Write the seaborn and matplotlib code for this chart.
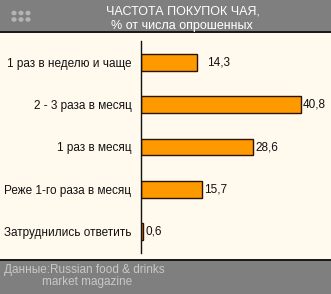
import matplotlib
matplotlib.use("Agg")
import matplotlib.pyplot as plt
import seaborn as sns
import pandas as pd
import numpy as np
from matplotlib.patches import Rectangle, Circle

categories = ["1 раз в неделю и чаще", "2 - 3 раза в месяц", "1 раз в месяц",
              "Реже 1-го раза в месяц", "Затруднились ответить"]
values = [14.3, 40.8, 28.6, 15.7, 0.6]
labels = ["14,3", "40,8", "28,6", "15,7", "0,6"]
title1 = "ЧАСТОТА ПОКУПОК ЧАЯ,"
title2 = "% от числа опрошенных"
source1 = "Данные:Russian food & drinks"
source2 = "market magazine"

sns.set_style("white")
plt.rcParams['font.family'] = ['Liberation Sans', 'DejaVu Sans']

W, H = 331, 294
fig = plt.figure(figsize=(W / 100, H / 100), dpi=100)
fig.patch.set_facecolor("#FFF9EE")

# header and footer bands
fig.patches.append(Rectangle((0, 1 - 31 / H), 1, 31 / H, transform=fig.transFigure,
                             facecolor="#7F7F7F", edgecolor="none", zorder=0))
fig.patches.append(Rectangle((0, 1 - 33 / H), 1, 2 / H, transform=fig.transFigure,
                             facecolor="#1a1a1a", edgecolor="none", zorder=0))
fig.patches.append(Rectangle((0, 0), 1, 33 / H, transform=fig.transFigure,
                             facecolor="#7F7F7F", edgecolor="none", zorder=0))
fig.patches.append(Rectangle((0, 33 / H), 1, 2 / H, transform=fig.transFigure,
                             facecolor="#1a1a1a", edgecolor="none", zorder=0))
# dots icon
for i in range(3):
    for j in range(2):
        fig.patches.append(Circle(((14 + i * 7) / W, 1 - (13 + j * 6.5) / H), 2.6 / W,
                                  transform=fig.transFigure, facecolor="#B4B4B4",
                                  edgecolor="none", zorder=1))

fig.text(183 / W, 1 - 12 / H, title1, ha="center", va="center", color="white", fontsize=9)
fig.text(182 / W, 1 - 26 / H, title2, ha="center", va="center", color="white", fontsize=9)
fig.text(4 / W, 1 - 270 / H, source1, ha="left", va="center", color="#C8C8C8", fontsize=8.5)
fig.text(42 / W, 1 - 282 / H, source2, ha="left", va="center", color="#C8C8C8", fontsize=8.5)

ax_left, ax_right = 141, 321
ax_top, ax_bottom = 41, 253
ax = fig.add_axes([ax_left / W, 1 - ax_bottom / H, (ax_right - ax_left) / W, (ax_bottom - ax_top) / H])
ax.set_facecolor("none")

df = pd.DataFrame({"cat": categories, "val": values})
sns.barplot(data=df, x="val", y="cat", orient="h", color="#FF9900", saturation=1,
            width=0.4, edgecolor="#2a1400", linewidth=1.0, ax=ax)

px_per_unit = 159.7 / 40.8
ax.set_xlim(0, (ax_right - ax_left) / px_per_unit)
ax.set_ylim(len(categories) - 0.5, -0.5)

for i, (v, lab) in enumerate(zip(values, labels)):
    off = 7.5 if i == 0 else 1.5
    ax.annotate(lab, (v, i), xytext=(off, 0), textcoords="offset points",
                ha="left", va="center", fontsize=8.5, color="#111111")

for s in ["top", "right", "bottom"]:
    ax.spines[s].set_visible(False)
ax.spines["left"].set_color("#111111")
ax.spines["left"].set_linewidth(1.0)
ax.set_xticks([])
ax.set_xlabel("")
ax.set_ylabel("")
ax.set_yticks(range(len(categories)))
ax.set_yticklabels(categories, fontsize=8.5, color="#111111")
ax.tick_params(axis="y", which="major", length=0, pad=7)
ax.set_yticks(np.arange(-0.5, len(categories), 1.0), minor=True)
ax.tick_params(axis="y", which="minor", length=3, width=1.0, color="#111111", direction="out")

fig.savefig("out.png", dpi=100, facecolor=fig.get_facecolor())
